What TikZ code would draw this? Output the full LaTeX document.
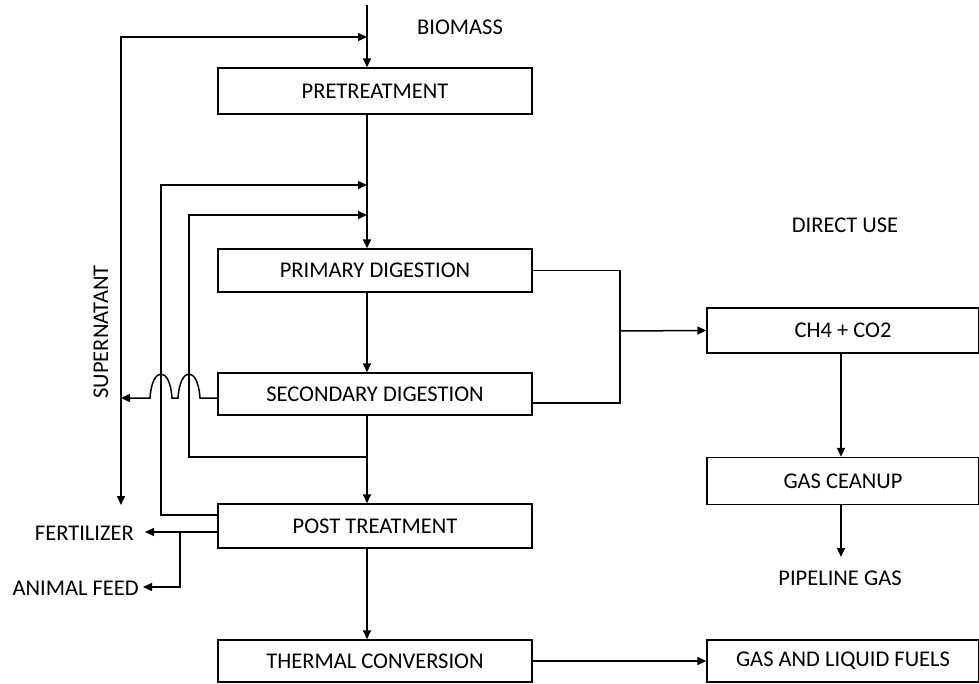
\documentclass[tikz,border=0pt]{standalone}
\usepackage{fontspec}
\setmainfont{Carlito}
\usetikzlibrary{arrows.meta}
\begin{document}
\begin{tikzpicture}[x=1pt,y=-1pt,
  txt/.style={font=\fontsize{22.5}{26}\selectfont},
  box/.style={draw,line width=1.4pt,minimum width=314pt,inner sep=0pt,txt},
  rbox/.style={draw,line width=1.4pt,minimum width=272pt,inner sep=0pt,txt},
  lbl/.style={inner sep=0pt,txt},
  conn/.style={line width=1.5pt},
  tip/.tip={Triangle[length=9pt,width=8pt]},
  arr/.style={conn,-tip},
  darr/.style={conn,tip-tip}]
\useasboundingbox (0,0) rectangle (979,684);
% boxes
\node[box,minimum height=46pt] (pre) at (375,91) {PRETREATMENT};
\node[box,minimum height=43pt] (prim) at (375,270.5) {PRIMARY DIGESTION};
\node[box,minimum height=42pt] (sec) at (375,394) {SECONDARY DIGESTION};
\node[box,minimum height=44pt] (post) at (375,526) {POST TREATMENT};
\node[box,minimum height=42pt] (therm) at (375,661) {THERMAL CONVERSION};
\node[rbox,minimum height=45pt] (ch4) at (843,330.5) {CH4 + CO2};
\node[rbox,minimum height=47pt] (clean) at (843,481) {GAS CEANUP};
\node[rbox,minimum height=42pt] (fuels) at (843,661) {GAS AND LIQUID FUELS};
% labels
\node[lbl] (bio) at (460,27) {BIOMASS};
\node[lbl] (direct) at (845,225) {DIRECT USE};
\node[lbl] (pipe) at (840,578) {PIPELINE GAS};
\node[lbl,anchor=east] (fert) at (134,533) {FERTILIZER};
\node[lbl,anchor=east] (feed) at (139,588) {ANIMAL FEED};
\node[lbl,rotate=90] (super) at (101,332) {SUPERNATANT};
% coordinates
\coordinate (top) at (367,5);
\coordinate (j1) at (367,37);
\coordinate (j2) at (367,185);
\coordinate (j3) at (367,215);
\coordinate (j4) at (367,457);
\coordinate (split) at (620,331);
% main line
\draw[arr] (top) -- (pre.north -| top);
\draw[conn] (pre.south -| top) -- (j3);
\draw[arr] (j3) -- (prim.north -| top);
\draw[arr] (prim.south -| top) -- (sec.north -| top);
\draw[arr] (sec.south -| top) -- (post.north -| top);
\draw[arr] (post.south -| top) -- (therm.north -| top);
% recycle loops
\draw[darr] (121,505) -- (121,37) -- (j1);
\draw[arr] (post.west |- 0,515) -- (161,515) -- (161,185) -- (j2);
\draw[arr,line width=2.2pt] (j4) -- (189,457) -- (189,215) -- (j3);
% supernatant output with hops
\draw[arr] (sec.west |- 0,398) -- (200,398)
  .. controls (198,366) and (180,366) .. (178,398) -- (172,398)
  .. controls (170,366) and (152,366) .. (150,398) -- (121,398);
% post treatment outputs
\draw[arr] (post.west |- 0,532) -- (145,532);
\draw[arr] (180,532) -- (180,587) -- (143,587);
% gas collection
\draw[conn] (prim.east) -- (620,270.5) -- (620,403) -- (sec.east |- 0,403);
\draw[arr] (split) -- (ch4.west);
\draw[arr] (ch4.south -| 841,0) -- (clean.north -| 841,0);
\draw[arr] (clean.south -| 841,0) -- (841,557);
\draw[arr] (therm.east) -- (fuels.west);
\end{tikzpicture}
\end{document}
